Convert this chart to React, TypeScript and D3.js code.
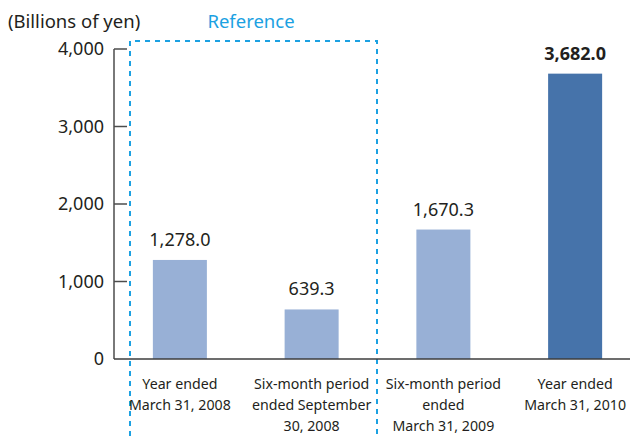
import React, { useRef, useEffect } from 'react';
import * as d3 from 'd3';

// Chart data
const categories = [
  ['Year ended', 'March 31, 2008'],
  ['Six-month period', 'ended September', '30, 2008'],
  ['Six-month period', 'ended', 'March 31, 2009'],
  ['Year ended', 'March 31, 2010'],
];
const values = [1278.0, 639.3, 1670.3, 3682.0];
const highlighted = [false, false, false, true];
const yTicks = [0, 1000, 2000, 3000, 4000];

const W = 630;
const H = 436;
const FONT = '"Noto Sans", sans-serif';
const TEXT = '#231f20';
const BLUE = '#1ba1e2';

const App = () => {
  const svgRef = useRef<SVGSVGElement | null>(null);

  useEffect(() => {
    if (!svgRef.current) return;
    const svg = d3.select(svgRef.current);
    svg.selectAll('*').remove();

    const y = d3.scaleLinear().domain([0, 4000]).range([359, 49]);
    const x = d3.scaleBand<number>()
      .domain(d3.range(values.length))
      .range([114, 641])
      .paddingInner(0.59)
      .paddingOuter(0.295);

    // Reference box (dashed)
    svg.append('path')
      .attr('d', `M130,${H} V41 H377 V${H}`)
      .attr('fill', 'none')
      .attr('stroke', BLUE)
      .attr('stroke-width', 2)
      .attr('stroke-dasharray', '5,5');

    svg.append('text')
      .attr('x', 251)
      .attr('y', 28)
      .attr('text-anchor', 'middle')
      .attr('fill', BLUE)
      .attr('font-family', FONT)
      .attr('font-size', 18.5)
      .text('Reference');

    svg.append('text')
      .attr('x', 8)
      .attr('y', 28)
      .attr('fill', TEXT)
      .attr('font-family', FONT)
      .attr('font-size', 18.5)
      .text('(Billions of yen)');

    // Bars
    svg.selectAll('rect.bar')
      .data(values)
      .enter()
      .append('rect')
      .attr('class', 'bar')
      .attr('x', (_, i) => x(i)!)
      .attr('width', x.bandwidth())
      .attr('y', d => y(d))
      .attr('height', d => y(0) - y(d))
      .attr('fill', (_, i) => highlighted[i] ? '#4673aa' : '#98b0d6');

    // Value labels
    svg.selectAll('text.val')
      .data(values)
      .enter()
      .append('text')
      .attr('class', 'val')
      .attr('x', (_, i) => x(i)! + x.bandwidth() / 2)
      .attr('y', d => y(d) - 14)
      .attr('text-anchor', 'middle')
      .attr('fill', TEXT)
      .attr('font-family', FONT)
      .attr('font-size', 18)
      .attr('font-weight', (_, i) => highlighted[i] ? 'bold' : 'normal')
      .text(d => d3.format(',.1f')(d));

    // Y axis
    svg.append('line')
      .attr('x1', 114).attr('x2', 114)
      .attr('y1', y(4000)).attr('y2', y(0))
      .attr('stroke', '#4d4d4d')
      .attr('stroke-width', 1.5);
    svg.append('line')
      .attr('x1', 114).attr('x2', W)
      .attr('y1', y(0)).attr('y2', y(0))
      .attr('stroke', '#3d3d3d')
      .attr('stroke-width', 1.5);

    const tick = svg.selectAll('g.tick')
      .data(yTicks)
      .enter()
      .append('g')
      .attr('class', 'tick')
      .attr('transform', d => `translate(0,${y(d)})`);
    tick.filter(d => d > 0).append('line')
      .attr('x1', 114).attr('x2', 127)
      .attr('stroke', '#4d4d4d')
      .attr('stroke-width', 1.5);
    tick.append('text')
      .attr('x', 104)
      .attr('dy', '0.35em')
      .attr('text-anchor', 'end')
      .attr('fill', TEXT)
      .attr('font-family', FONT)
      .attr('font-size', 18)
      .text(d => d3.format(',')(d));

    // Category labels
    const cat = svg.selectAll('text.cat')
      .data(categories)
      .enter()
      .append('text')
      .attr('class', 'cat')
      .attr('x', (_, i) => x(i)! + x.bandwidth() / 2)
      .attr('y', 389)
      .attr('text-anchor', 'middle')
      .attr('fill', TEXT)
      .attr('font-family', FONT)
      .attr('font-size', 14.2);
    cat.selectAll('tspan')
      .data(d => d)
      .enter()
      .append('tspan')
      .attr('x', function () { return (this as any).parentNode.getAttribute('x'); })
      .attr('dy', (_, j) => j === 0 ? 0 : 21)
      .text(d => d);
  }, []);

  return (
    <svg ref={svgRef} width={W} height={H}
      style={{ position: 'absolute', left: 0, top: 0, background: '#fff' }} />
  );
};

export default App;
